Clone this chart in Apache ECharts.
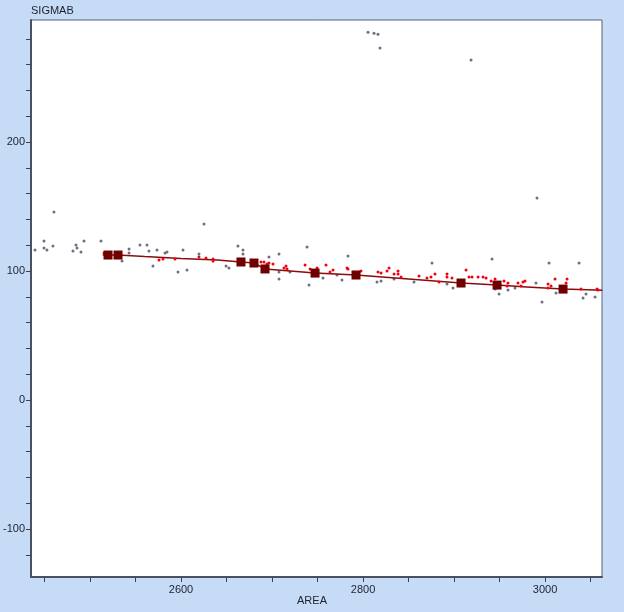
<!DOCTYPE html>
<html>
<head>
<meta charset="utf-8">
<script src="https://cdn.jsdelivr.net/npm/echarts@6/dist/echarts.min.js"></script>
<style>
html,body{margin:0;padding:0;background:#C6DBF6;}
#c{width:624px;height:612px;}
</style>
</head>
<body>
<div id="c"></div>
<script>
// Gray observations [AREA, SIGMAB]
const grayPoints = [
[2439.6,116.3],[2449.5,123.3],[2449.5,117.8],[2452.7,116.3],[2459.3,119.4],[2460.4,145.7],
[2481.3,115.5],[2484.6,120.2],[2485.7,117.8],[2490.1,114.7],[2493.4,123.3],[2512.1,123.3],
[2535.2,107.8],[2542.9,117.1],[2542.9,114.0],[2554.9,120.2],[2562.6,120.2],[2564.8,115.5],
[2569.2,103.9],[2573.6,116.3],[2582.4,114.0],[2584.6,114.7],[2596.7,99.2],[2602.2,116.3],
[2606.6,100.8],[2625.3,136.4],[2619.8,113.2],[2649.5,103.9],[2652.7,102.3],
[2662.6,119.4],[2668.1,116.3],[2668.1,113.2],[2696.7,110.9],[2707.7,113.2],[2707.7,99.2],
[2707.7,93.8],[2719.8,99.2],[2738.5,118.6],[2740.7,89.1],[2756.0,94.6],
[2771.4,96.9],[2776.9,93.0],[2783.5,111.6],[2815.4,91.5],[2819.8,92.2],[2834.1,93.8],
[2856.0,91.5],[2875.8,106.2],[2892.3,89.9],[2898.9,86.8],[2941.8,109.3],[2991.2,156.6],
[3004.4,106.2],[3037.4,106.2],[2945.1,86.0],[2949.5,82.2],[2959.3,85.3],[2967.0,86.8],
[2990.1,90.7],[2996.7,76.0],[3012.1,82.9],[3045.0,82.2],[3041.8,79.1],[3055.0,79.8],
[2805.5,285.2],[2812.1,284.4],[2816.5,283.6],[2818.7,272.8],[2918.7,263.5]
];
// Red observations
const redPoints = [
[2515.4,113.9],[2575.8,108.5],[2580.2,109.3],[2593.4,109.3],[2619.8,110.8],[2627.5,110.1],
[2635.2,109.3],[2635.2,107.7],[2687.9,107.0],[2691.2,107.0],[2694.5,105.4],[2696.7,106.2],
[2701.1,105.4],[2713.2,102.3],[2715.4,103.9],[2716.5,101.5],[2736.3,104.6],[2741.8,101.5],
[2749.5,102.3],[2759.3,104.6],[2763.7,99.2],[2767.0,100.8],[2782.4,102.3],[2783.5,101.5],
[2790.1,99.2],[2795.6,99.2],[2797.8,100.0],[2816.5,99.2],[2819.8,98.4],[2826.4,100.0],
[2828.6,102.3],[2834.1,97.6],[2838.5,100.0],[2838.5,97.6],[2841.8,95.3],[2861.5,96.1],
[2870.3,94.6],[2874.7,95.3],[2879.1,97.6],[2883.5,91.4],[2892.3,97.6],[2892.3,95.3],
[2897.8,94.6],[2913.2,100.8],[2916.5,95.3],[2919.8,95.3],[2926.4,95.3],[2931.9,95.3],
[2935.2,94.6],[2940.7,92.2],[2945.1,93.8],[2954.9,92.2],[2958.2,88.4],[2959.3,90.7],
[2970.3,90.7],[2973.6,88.4],[2975.8,91.5],[2978.0,92.2],[3003.3,89.9],[3003.3,86.8],
[3006.6,88.4],[3011.0,93.8],[3023.1,90.7],[3024.2,93.8],[3039.6,86.0],[3057.1,86.0],
[3058.2,85.3]
];
// Large squares
const squarePoints = [
[2519.8,112.4],[2530.8,112.4],[2665.9,107.0],[2680.2,106.2],[2692.3,101.6],
[2747.3,98.4],[2792.3,96.9],[2907.7,90.7],[2947.3,89.1],[3019.8,86.0]
];
// Fitted line
const fitLine = [
[2514,112.5],[2530.8,112.4],[2560,111.2],[2600,109.8],[2640,108.6],[2665.9,107.0],
[2680.2,106.2],[2692.3,101.6],[2720,100.0],[2747.3,98.4],[2792.3,96.9],[2850,93.9],
[2907.7,90.7],[2947.3,89.1],[2980,87.7],[3019.8,86.0],[3063,85.0]
];
const xLabels = [2600,2800,3000];
const xTicks = [2450,2500,2550,2600,2650,2700,2750,2800,2850,2900,2950,3000,3050];
const yLabels = [-100,0,100,200];
const yTicks = [-120,-100,-80,-60,-40,-20,0,20,40,60,80,100,120,140,160,180,200,220,240,260,280];

const font = "'Liberation Sans Narrow','Liberation Sans',Arial,sans-serif";
const chart = echarts.init(document.getElementById('c'), null, {renderer:'canvas'});
chart.setOption({
  backgroundColor:'#C6DBF6',
  animation:false,
  grid:{left:31,top:20,right:22,bottom:35,show:true,backgroundColor:'#ffffff',borderColor:'#5a6274',borderWidth:1},
  xAxis:{
    type:'value',min:2435.2,max:3062.6,
    axisLine:{show:true,onZero:false,lineStyle:{color:'#4a5262',width:2}},
    axisTick:{show:true,length:5,lineStyle:{color:'#3a4252'},customValues:xTicks},
    axisLabel:{customValues:xLabels,formatter:v=>String(v),color:'#1c2230',fontFamily:font,fontSize:11,margin:7},
    splitLine:{show:false}
  },
  yAxis:{
    type:'value',min:-137.2,max:294.6,
    axisLine:{show:true,onZero:false,lineStyle:{color:'#4a5262',width:2}},
    axisTick:{show:true,length:5,lineStyle:{color:'#3a4252'},customValues:yTicks},
    axisLabel:{customValues:yLabels,formatter:v=>String(v),color:'#1c2230',fontFamily:font,fontSize:11,margin:6},
    splitLine:{show:false}
  },
  graphic:[
    {type:'text',left:31,top:5,style:{text:'SIGMAB',fill:'#1c2230',font:'11px '+font}},
    {type:'text',left:'center',top:595,style:{text:'AREA',fill:'#1c2230',font:'11px '+font}}
  ],
  series:[
    {type:'scatter',data:grayPoints,symbol:'circle',symbolSize:3,itemStyle:{color:'#6a7280',opacity:1},z:2},
    {type:'line',data:fitLine,showSymbol:false,symbol:'none',lineStyle:{color:'#8a0c0c',width:1.5},z:3},
    {type:'scatter',data:redPoints,symbol:'circle',symbolSize:3,itemStyle:{color:'#f00010',opacity:1},z:4},
    {type:'scatter',data:squarePoints,symbol:'rect',symbolSize:9,itemStyle:{color:'#6e0000',opacity:1},z:5}
  ]
});
</script>
</body>
</html>
